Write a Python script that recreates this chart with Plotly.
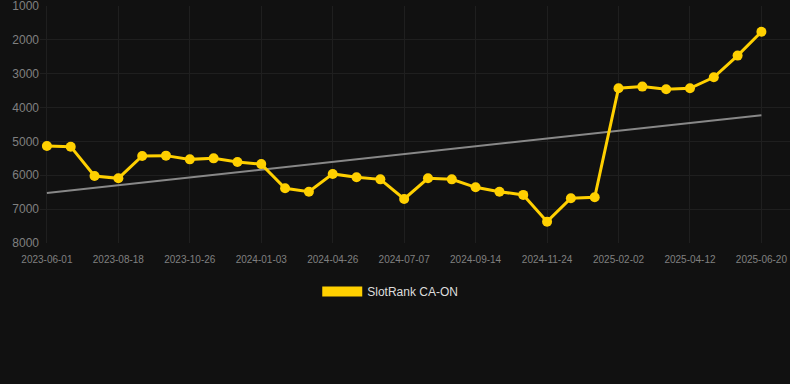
import numpy as np
import plotly.graph_objects as go

dates = [
    "2023-06-01", "2023-06-27", "2023-07-23", "2023-08-18", "2023-09-10", "2023-10-03",
    "2023-10-26", "2023-11-18", "2023-12-11", "2024-01-03", "2024-02-10", "2024-03-19",
    "2024-04-26", "2024-05-20", "2024-06-13", "2024-07-07", "2024-07-30", "2024-08-22",
    "2024-09-14", "2024-10-08", "2024-10-31", "2024-11-24", "2024-12-17", "2025-01-09",
    "2025-02-02", "2025-02-25", "2025-03-20", "2025-04-12", "2025-05-05", "2025-05-28",
    "2025-06-20",
]
ranks = [
    5135, 5155, 6020, 6090, 5430, 5420, 5530, 5500, 5610, 5670,
    6385, 6485, 5960, 6060, 6120, 6700, 6090, 6120, 6355, 6485,
    6580, 7370, 6680, 6650, 3430, 3380, 3460, 3430, 3105, 2465,
    1760,
]
tick_labels = [
    "2023-06-01", "2023-08-18", "2023-10-26", "2024-01-03", "2024-04-26", "2024-07-07",
    "2024-09-14", "2024-11-24", "2025-02-02", "2025-04-12", "2025-06-20",
]
y_ticks = [1000, 2000, 3000, 4000, 5000, 6000, 7000, 8000]
series_name = "SlotRank CA-ON"

idx = np.arange(len(ranks))
slope, intercept = np.polyfit(idx, ranks, 1)
trend = list(slope * idx + intercept)

YELLOW = "#FFD000"
BG = "#111111"
GRID = "#1f1f1f"

fig = go.Figure()
fig.add_trace(go.Scatter(
    x=dates, y=trend, mode="lines",
    line=dict(color="#888888", width=2),
    showlegend=False, hoverinfo="skip",
))
fig.add_trace(go.Scatter(
    x=dates, y=ranks, mode="lines+markers",
    line=dict(color=YELLOW, width=3),
    marker=dict(color=YELLOW, size=10),
    showlegend=False, name=series_name,
))
fig.add_trace(go.Scatter(
    x=[None], y=[None], mode="lines",
    line=dict(color=YELLOW, width=10),
    name=series_name, showlegend=True,
))

fig.update_layout(
    width=790, height=384,
    paper_bgcolor=BG, plot_bgcolor=BG,
    margin=dict(l=40, r=0, t=6, b=141, autoexpand=False),
    font=dict(family="Arial, Liberation Sans, sans-serif", color="#808080"),
    showlegend=True,
    legend=dict(
        orientation="h", x=0.467, xanchor="center",
        y=-0.143, yanchor="top",
        font=dict(size=12, color="#dddddd"), itemwidth=40,
        bgcolor="rgba(0,0,0,0)",
    ),
)
fig.update_xaxes(
    type="category", categoryorder="array", categoryarray=dates,
    range=[-0.29, 31.2],
    tickmode="array", tickvals=tick_labels, ticktext=tick_labels,
    tickfont=dict(size=10, color="#808080"),
    ticklabelstandoff=9, tickangle=0,
    showgrid=True, gridcolor=GRID, gridwidth=1,
    showline=False, zeroline=False, ticks="",
)
fig.update_yaxes(
    range=[8000.5, 999.5],
    tickmode="array", tickvals=y_ticks,
    tickfont=dict(size=12, color="#808080"),
    ticklabeloverflow="allow",
    showgrid=True, gridcolor=GRID, gridwidth=1,
    zeroline=False, showline=False, ticks="",
)

fig.write_html(
    "out.html",
    config={"displayModeBar": False},
    post_script="document.body.style.margin='0';document.body.style.background='#111111';",
)
